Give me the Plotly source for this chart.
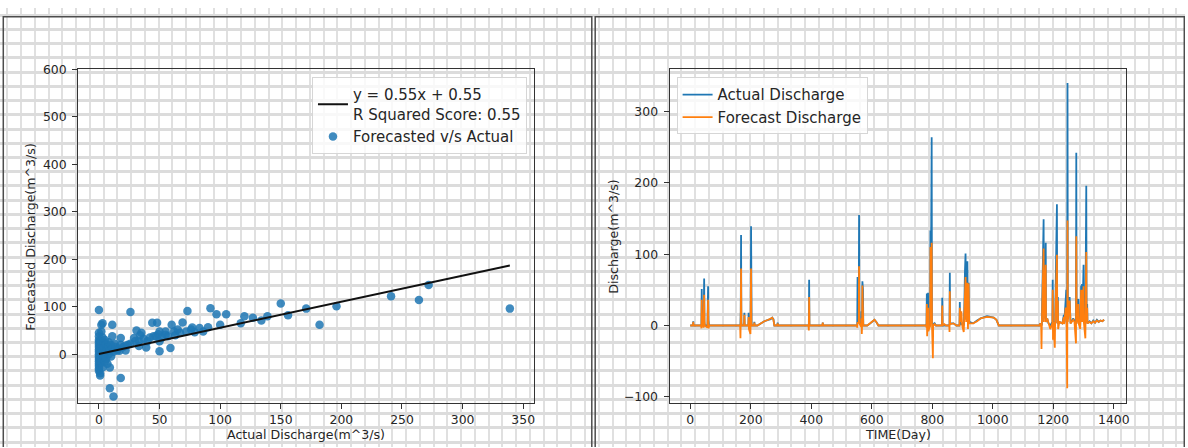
import plotly.graph_objects as go

W, H = 1188, 448

# ---- Scatter: actual vs forecasted discharge (m^3/s) ----
sc_actual = [0, 0, 0, 0, 0, 0, 0, 0, 0, 0, 0, 0, 0, 0, 0, 0, 0, 1, 1, 1, 1, 1, 1,
             2, 2, 2, 2, 3, 3, 3, 3, 4, 4, 4, 5, 5, 5, 6, 6, 6, 7, 7, 8, 8, 8,
             9, 9, 9, 10, 10, 11, 11, 11, 12, 12, 13, 14, 15, 16, 17, 18, 18, 18,
             20, 22, 22, 24, 26, 26, 29, 30, 31, 33, 33, 34, 35, 37, 39, 40, 42,
             44, 45, 47, 48, 49, 50, 50, 50, 52, 55, 55, 57, 59, 60, 62, 63, 65,
             67, 69, 72, 73, 76, 77, 79, 83, 86, 90, 92, 97, 100, 105, 117, 120,
             127, 134, 139, 150, 156, 171, 182, 196, 241, 264, 272, 339]
sc_forecast = [93, 45, 38, 30, 25, 20, 15, 10, 5, 0, -5, -10, -15, -20, -25, -30, -35, -45, -40, 28, 12, -8, 2,
               62, 48, 18, -18, 65, 35, 8, -28, 25, -5, 14, 30, 0, -15, 20, 5, -10, 10, -20, 25, 0, 15,
               -28, -72, 8, 20, -5, 62, 38, 12, -89, 5, 22, 15, 8, 12, 7, 34, -50, 20,
               15, 8, 18, 20, 89, 22, 34, 28, 50, 27, 17, 40, 45, 32, 14, 27, 35,
               66, 38, 38, 66, 42, 6, 48, 27, 35, 48, 41, 38, 13, 62, 48, 40, 52,
               45, 67, 48, 91, 52, 56, 46, 55, 48, 57, 97, 84, 62, 84, 65, 80,
               77, 71, 80, 107, 82, 96, 62, 101, 122, 114, 146, 96]

# Fitted regression line parameters
slope = 0.55
intercept = 0.55
r2_score = 0.55

# ---- Time series of daily discharge (m^3/s) ----
days = [0, 9, 10, 11, 36, 37, 38, 39, 44, 45, 46, 47, 48, 57, 58, 59, 60, 61, 62,
        165, 166, 167, 168, 169, 170, 178, 179, 180, 192, 193, 194, 199, 200, 201, 202, 203,
        211, 212, 213, 222, 232, 245, 258, 266, 271, 275, 278, 288, 289, 290,
        391, 392, 393, 394, 437, 438, 439,
        551, 552, 553, 554, 557, 558, 559, 565, 566, 567, 568, 569, 570, 571, 572,
        585, 595, 603, 609, 615, 622,
        780, 781, 782, 783, 784, 786, 787, 793, 794, 795, 798, 799, 802, 803, 808, 812,
        832, 833, 834, 840, 845, 856, 857, 858, 859, 870, 880, 890, 891, 892, 896, 899,
        904, 905, 908, 910, 912, 914, 916, 918, 920, 922, 935, 948, 960, 981, 1003, 1012, 1020,
        1155, 1157, 1160, 1161, 1162, 1168, 1169, 1175, 1176, 1180, 1184, 1190, 1197, 1198,
        1199, 1200, 1205, 1206, 1212, 1213, 1215, 1216, 1220, 1230, 1235, 1236, 1241, 1243,
        1244, 1246, 1247, 1248, 1254, 1255, 1256, 1257, 1266, 1270, 1275, 1276, 1277, 1281,
        1282, 1283, 1284, 1289, 1292, 1293, 1295, 1296, 1300, 1301, 1306, 1309, 1310, 1312,
        1313, 1320, 1326, 1332, 1338, 1344, 1350, 1356, 1362, 1368]
actual = [0, 0, 6, 0, 0, 2, 51, 10, 2, 30, 66, 5, 0, 0, 15, 55, 8, 0, 0,
          0, 2, 20, 127, 5, 0, 0, 18, 0, 0, 18, 0, 0, 20, 139, 5, 0,
          0, 5, 0, 0, 3, 6, 8, 9, 11, 9, 0, 0, 4, 0,
          0, 0, 64, 0, 0, 4, 0,
          0, 0, 68, 8, 10, 155, 5, 0, 20, 5, 0, 62, 5, 50, 0,
          0, 3, 6, 8, 5, 0,
          0, 3, 45, 5, 0, 46, 0, 0, 133, 20, 264, 5, 2, 0, 3, 0,
          0, 39, 0, 0, 0, 0, 2, 74, 3, 3, 0, 0, 33, 3, 2, 3,
          0, 5, 76, 101, 8, 60, 90, 5, 60, 5, 3, 7, 10, 13, 11, 8, 0,
          0, 3, 0, 2, 0, 149, 10, 116, 5, 10, 3, 0, 5, 64,
          3, 5, 2, 3, 170, 3, 40, 2, 5, 3, 15, 3, 30, 50,
          5, 2, 340, 10, 40, 5, 33, 3, 10, 5, 2, 242, 5, 30,
          3, 37, 3, 2, 56, 5, 58, 5, 85, 5, 2, 196, 5, 30,
          3, 6, 3, 7, 4, 8, 5, 7, 6, 8]
forecast = [0, 0, 5, 0, 0, -4, 36, 5, -3, 30, 43, 8, 0, -3, 10, 36, 5, -4, 0,
            0, -18, 10, 80, 3, 0, 0, 15, 0, 0, 12, -5, -12, 18, 80, 6, 0,
            0, 4, 0, 0, 3, 6, 8, 10, 11, 8, 0, 0, 3, 0,
            0, -7, 40, 0, 0, 4, 0,
            0, -3, 5, 3, 5, 83, 3, -2, 10, -12, 0, 56, 3, 40, 0,
            0, 3, 6, 8, 5, 0,
            0, -3, 30, -15, 0, 25, -8, 0, 110, 10, 116, 3, -46, 0, 2, 0,
            0, 28, 0, 2, 0, 0, -9, 48, 2, 3, 0, 0, 25, 5, 20, 0,
            -9, 3, 63, 68, 5, 55, 60, -5, 59, 3, 3, 6, 10, 12, 11, 8, 0,
            0, 3, -2, -33, 0, 108, 5, 85, 5, 10, 2, -5, 3, 50,
            -20, 5, -31, 3, 99, 3, 35, -5, 5, 3, 12, 2, 25, 20,
            5, -88, 147, 5, 35, 3, 25, 3, 8, 5, -25, 125, 5, 20,
            3, 30, 3, -5, 50, 5, 50, 5, 55, 5, -18, 103, 5, 25,
            3, 5, 3, 6, 4, 7, 5, 7, 6, 8]

# Tick values
sc_xticks = [0, 50, 100, 150, 200, 250, 300, 350]
sc_yticks = [0, 100, 200, 300, 400, 500, 600]
ts_xticks = [0, 200, 400, 600, 800, 1000, 1200, 1400]
ts_yticks = [-100, 0, 100, 200, 300]

BLUE = "#1f77b4"
ORANGE = "#ff7f0e"
TXT = "#262626"
FONT = "DejaVu Sans"

fig = go.Figure()

# Full-canvas pixel axes used for the background grid paper, frames and titles
fig.add_trace(go.Scatter(x=[], y=[], xaxis="x", yaxis="y", showlegend=False, hoverinfo="skip"))

# Left panel: scatter + regression line
fig.add_trace(go.Scatter(
    x=sc_actual, y=sc_forecast, mode="markers", name="Forecasted v/s Actual",
    marker=dict(size=8.5, color=BLUE, opacity=0.85, line=dict(width=0)),
    xaxis="x2", yaxis="y2", legend="legend", legendrank=2))
x_lo, x_hi = min(sc_actual), max(sc_actual)
fig.add_trace(go.Scatter(
    x=[x_lo, x_hi], y=[slope * x_lo + intercept, slope * x_hi + intercept],
    mode="lines", line=dict(color="#111111", width=2),
    name=f"y = {slope}x + {intercept}<br>R Squared Score: {r2_score}",
    xaxis="x2", yaxis="y2", legend="legend", legendrank=1))

# Right panel: time series
fig.add_trace(go.Scatter(
    x=days, y=actual, mode="lines", name="Actual Discharge",
    line=dict(color=BLUE, width=1.8), xaxis="x3", yaxis="y3", legend="legend2"))
fig.add_trace(go.Scatter(
    x=days, y=forecast, mode="lines", name="Forecast Discharge",
    line=dict(color=ORANGE, width=1.8), xaxis="x3", yaxis="y3", legend="legend2"))


def px_x(p):
    return p / W


def px_y(p):
    return 1 - p / H


axis_common = dict(
    showgrid=False, zeroline=False, showline=True, mirror=True,
    linecolor="#333333", linewidth=1.2, ticks="outside", ticklen=5,
    tickwidth=1.1, tickcolor="#333333",
    tickfont=dict(family=FONT, size=12.4, color=TXT), fixedrange=True,
)

fig.update_layout(
    width=W, height=H, autosize=False,
    margin=dict(l=0, r=0, t=0, b=0),
    paper_bgcolor="white", plot_bgcolor="rgba(0,0,0,0)",
    font=dict(family=FONT, color=TXT),
    xaxis=dict(domain=[0, 1], range=[0, W], showgrid=True, gridcolor="#e0e0e0",
               gridwidth=2, tick0=7.3, dtick=13.79, showticklabels=False,
               ticks="", zeroline=False, showline=False, fixedrange=True),
    yaxis=dict(domain=[0, 1], range=[H, 0], showgrid=True, gridcolor="#dcdcdc",
               gridwidth=2.5, tick0=7.38, dtick=14.52, showticklabels=False,
               ticks="", zeroline=False, showline=False, fixedrange=True),
    xaxis2=dict(domain=[px_x(78.4), px_x(535.7)], range=[-17.1, 359.2],
                tickvals=sc_xticks, anchor="y2", **axis_common),
    yaxis2=dict(domain=[px_y(403.3), px_y(62.7)], range=[-103.3, 600],
                tickvals=sc_yticks, anchor="x2", ticklabelstandoff=3, **axis_common),
    xaxis3=dict(domain=[px_x(671.3), px_x(1129)], range=[-68.2, 1440.8],
                tickvals=ts_xticks, anchor="y3", **axis_common),
    yaxis3=dict(domain=[px_y(403.3), px_y(62.7)], range=[-108.9, 358.9],
                tickvals=ts_yticks, anchor="x3", ticklabelstandoff=3, **axis_common),
    legend=dict(x=px_x(528.3), xanchor="right", y=px_y(70.7), yanchor="top",
                bgcolor="rgba(255,255,255,0.8)", bordercolor="#d6d6d6", borderwidth=1,
                font=dict(family=FONT, size=15, color=TXT), tracegroupgap=0,
                itemwidth=30),
    legend2=dict(x=px_x(678.3), xanchor="left", y=px_y(70.7), yanchor="top",
                 bgcolor="rgba(255,255,255,0.8)", bordercolor="#d6d6d6", borderwidth=1,
                 font=dict(family=FONT, size=15, color=TXT), tracegroupgap=0,
                 itemwidth=30),
)

# Panel frames
for x0, x1 in [(3.3, 593.3), (596.7, 1187.3)]:
    fig.add_shape(type="rect", xref="x", yref="y", x0=x0, x1=x1, y0=9, y1=470,
                  line=dict(color="#4d4d4d", width=1.5), fillcolor="rgba(0,0,0,0)")

# Axis titles
title_font = dict(family=FONT, size=12.6, color=TXT)
fig.add_annotation(xref="x", yref="y", x=306.9, y=435, text="Actual Discharge(m^3/s)",
                   showarrow=False, font=title_font)
fig.add_annotation(xref="x", yref="y", x=30.5, y=233, text="Forecasted Discharge(m^3/s)",
                   showarrow=False, font=title_font, textangle=-90)
fig.add_annotation(xref="x", yref="y", x=900, y=435, text="TIME(Day)",
                   showarrow=False, font=title_font)
fig.add_annotation(xref="x", yref="y", x=615, y=233, text="Discharge(m^3/s)",
                   showarrow=False, font=title_font, textangle=-90)

fig.write_html("out.html")
